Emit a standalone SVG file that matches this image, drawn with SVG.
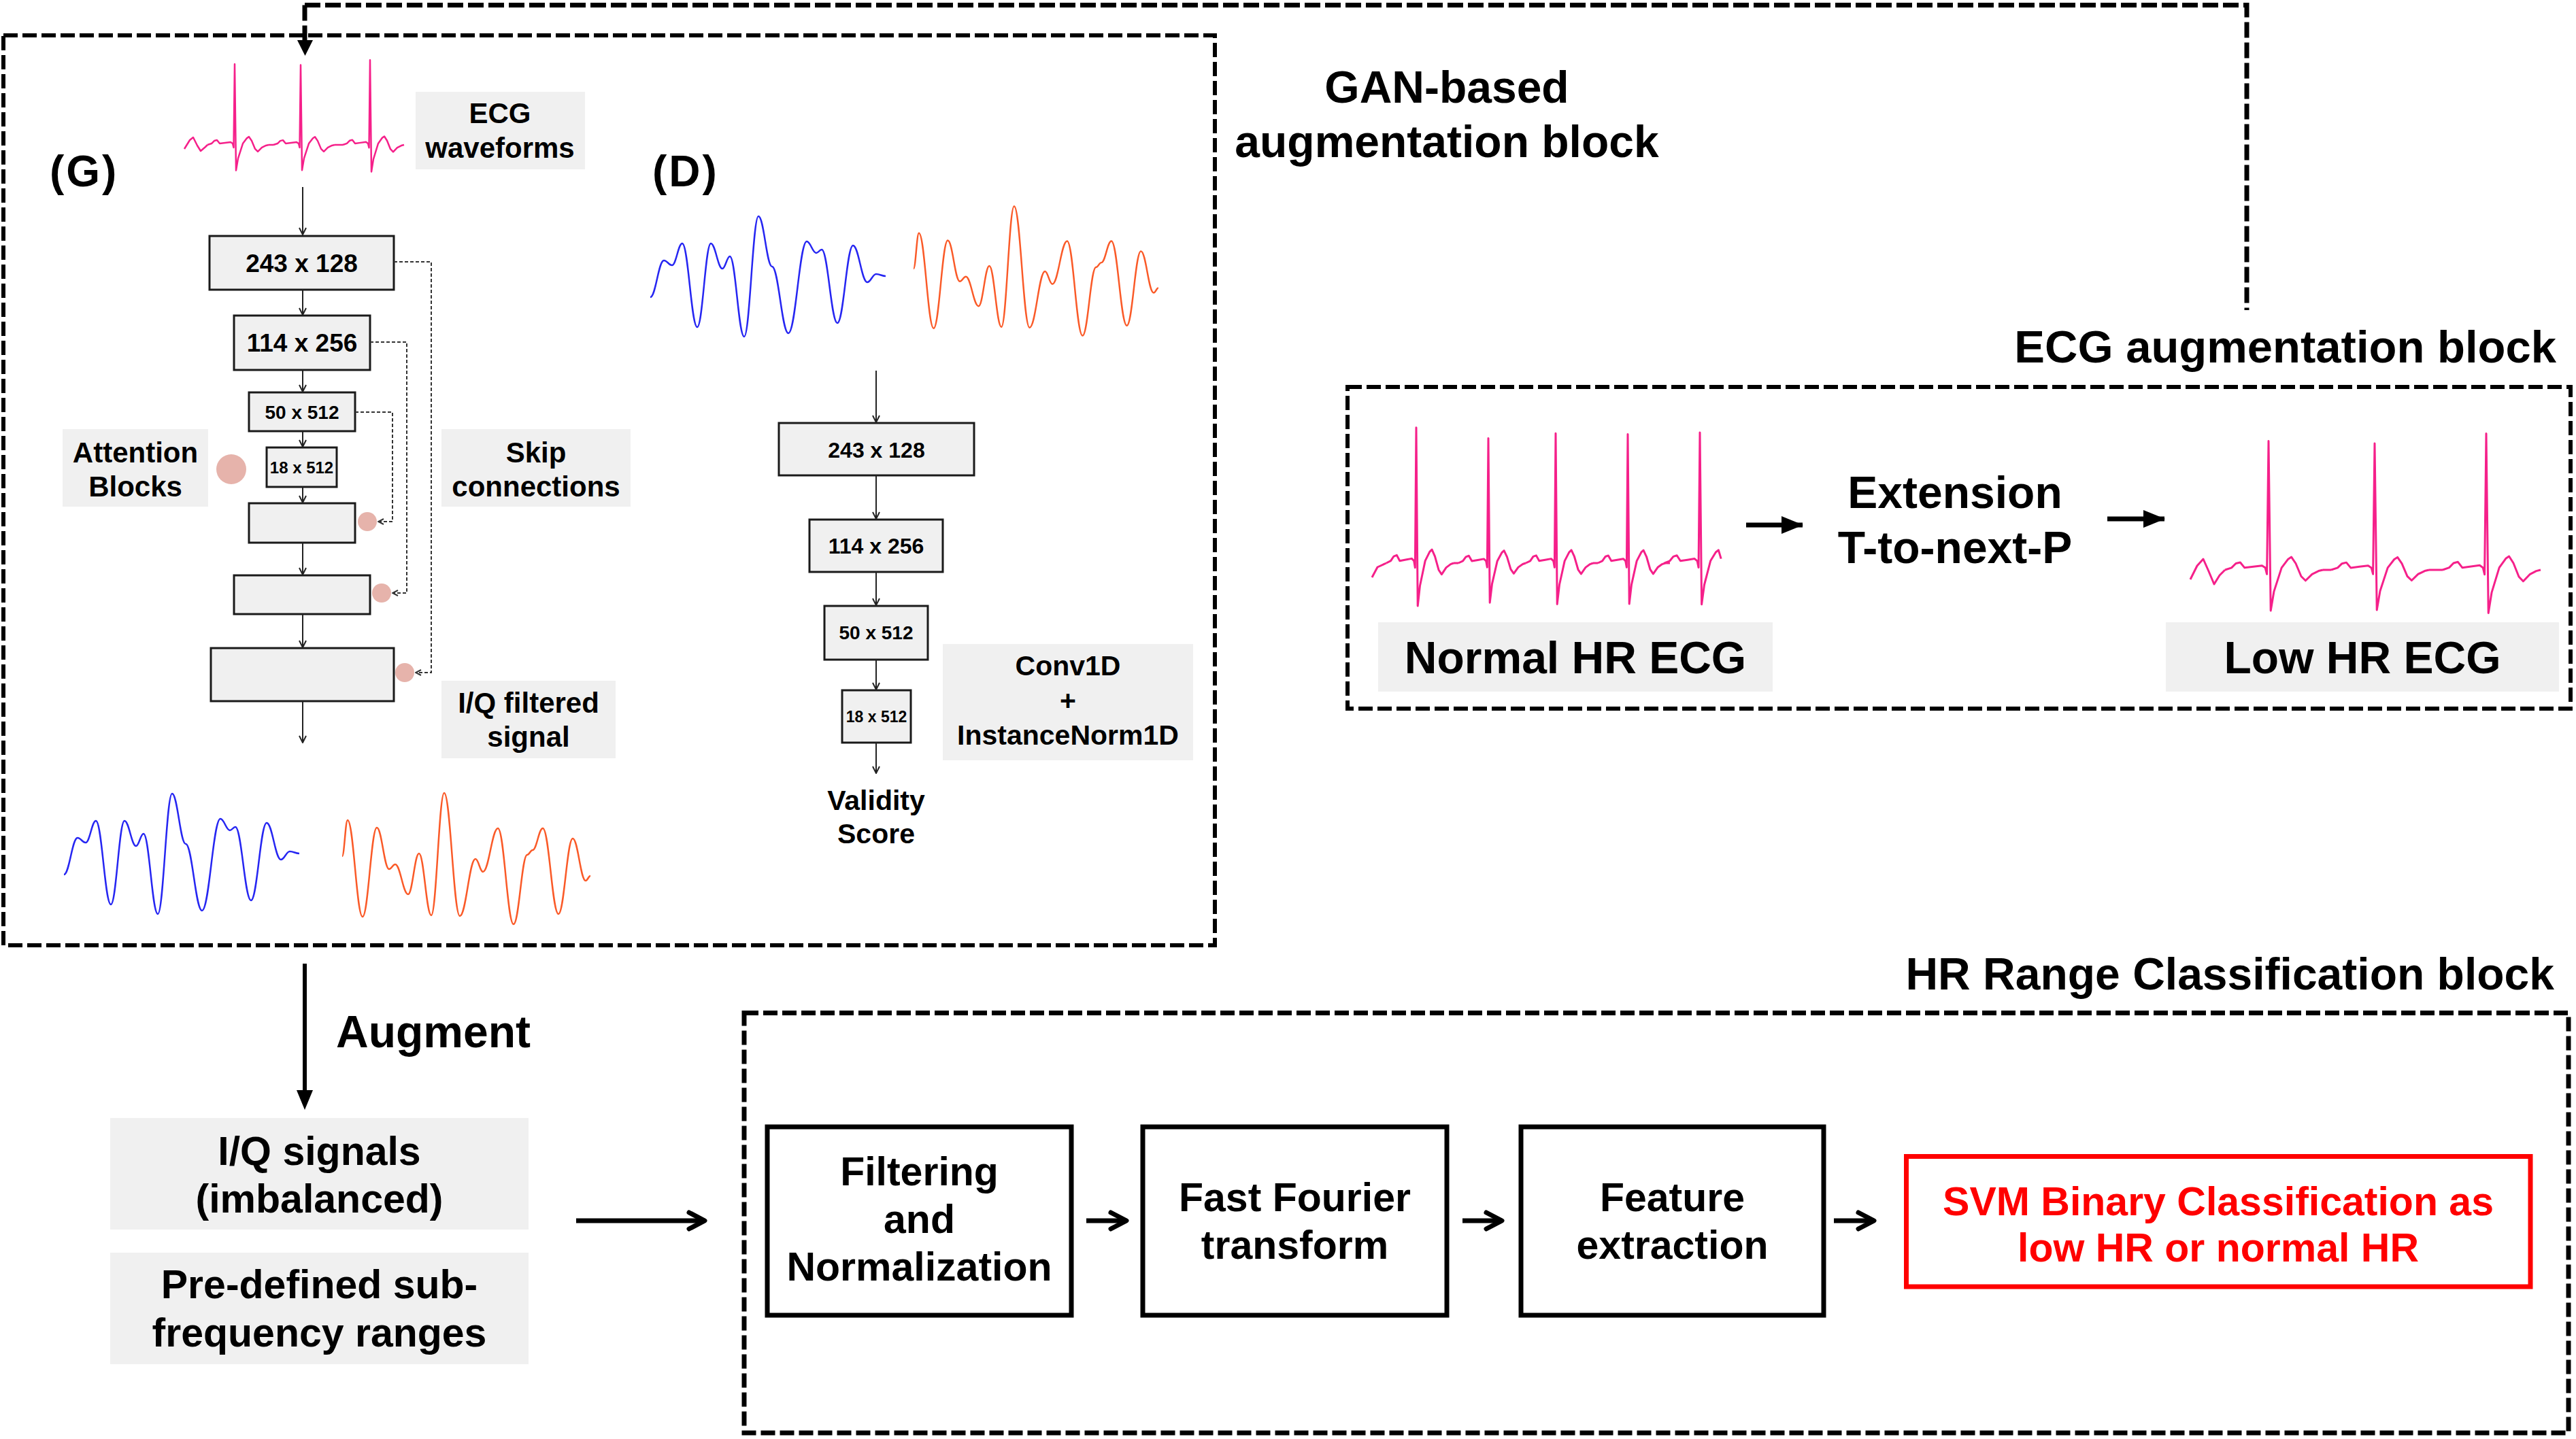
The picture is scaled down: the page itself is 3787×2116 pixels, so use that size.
<svg xmlns="http://www.w3.org/2000/svg" width="3787" height="2116" viewBox="0 0 3787 2116">
<defs>
<style>
text{font-family:"Liberation Sans",Arial,sans-serif;font-weight:bold;fill:#000}
.c{text-anchor:middle}
.blk{fill:none;stroke:#000;stroke-width:6;stroke-dasharray:21 7}
.lbl{fill:#f0f0f0}
.nb{fill:#f0f0f0;stroke:#1a1a1a;stroke-width:3}
.cb{fill:#fff;stroke:#000;stroke-width:7}
.ecg{fill:none;stroke:#f5208a;stroke-width:2.5;stroke-linejoin:round}
.ecg2{fill:none;stroke:#f5208a;stroke-width:3;stroke-linejoin:round}
.att{fill:#e6b3ab}
.thin{fill:none;stroke:#222;stroke-width:2}
.skip{fill:none;stroke:#333;stroke-width:2;stroke-dasharray:5 3}
.thick{fill:none;stroke:#000;stroke-width:7}
.bw{fill:none;stroke:#2626f2;stroke-width:2.5}
.ow{fill:none;stroke:#fa5a28;stroke-width:2.5}
</style>
<path id="beat" vector-effect="non-scaling-stroke" d="M-40,0 L-34,-2 L-30,-6 L-26,-7 L-22,-2 L-14,-3 L-6,-4 L-3,-2 L-1.5,4 L0,-120 L2,38 L5,20 L12,-2 L18,-10 L21,-12 L25,-6 L30,6 L34,10 L40,4 L46,1 L50,0"/>
<path id="beatT" vector-effect="non-scaling-stroke" d="M-40,0 L-34,-2 L-30,-6 L-26,-7 L-22,-2 L-14,-3 L-6,-4 L-3,-2 L-1.5,4 L0,-120 L2,38 L5,20 L12,-2 L18,-10 L21,-12 L24,-4"/>
<path id="bwave" d="M94,1286 C102,1286 106,1232 114,1232 C118.8,1232 121.2,1239 126,1239 C132,1239 135,1207 141,1207 C149.8,1207 154.2,1330 163,1330 C171,1330 175,1207 183,1207 C189.8,1207 193.2,1244 200,1244 C204.4,1244 206.6,1226 211,1226 C219.4,1226 223.6,1344 232,1344 C240.4,1344 244.6,1167 253,1167 C261,1167 265,1241 273,1241 C282.6,1241 287.4,1339 297,1339 C307.8,1339 313.2,1204 324,1204 C329.6,1204 332.4,1221 338,1221 C341.2,1221 342.8,1216 346,1216 C355.2,1216 359.8,1324 369,1324 C378.2,1324 382.8,1210 392,1210 C400.4,1210 404.6,1264 413,1264 C418.2,1264 420.8,1252 426,1252 C431.6,1252 434.4,1255 440,1255"/>
<path id="owave" d="M503,1259 C506.2,1259 507.8,1206 511,1206 C519.8,1206 524.2,1348 533,1348 C541.4,1348 545.6,1217 554,1217 C561.2,1217 564.8,1278 572,1278 C575.6,1278 577.4,1271 581,1271 C588.6,1271 592.4,1315 600,1315 C606.4,1315 609.6,1255 616,1255 C623.2,1255 626.8,1346 634,1346 C641.6,1346 645.4,1166 653,1166 C662.2,1166 666.8,1347 676,1347 C685.2,1347 689.8,1263 699,1263 C703.4,1263 705.6,1282 710,1282 C718.8,1282 723.2,1218 732,1218 C741.2,1218 745.8,1359 755,1359 C763,1359 767,1257 775,1257 C778.2,1257 779.8,1250 783,1250 C789,1250 792,1218 798,1218 C807.2,1218 811.8,1344 821,1344 C829.4,1344 833.6,1233 842,1233 C849.6,1233 853.4,1295 861,1295 C863.8,1295 865.2,1288 868,1288"/>
<marker id="ah" viewBox="0 0 12 12" refX="11" refY="6" markerWidth="12" markerHeight="12" markerUnits="userSpaceOnUse" orient="auto"><path d="M1,1 L11,6 L1,11" fill="none" stroke="#222" stroke-width="2"/></marker>
<marker id="sk" viewBox="0 0 10 10" refX="9" refY="5" markerWidth="10" markerHeight="10" markerUnits="userSpaceOnUse" orient="auto"><path d="M1,1 L9,5 L1,9" fill="none" stroke="#333" stroke-width="2"/></marker>
<marker id="tri" viewBox="0 0 32 26" refX="31" refY="13" markerWidth="32" markerHeight="26" markerUnits="userSpaceOnUse" orient="auto"><path d="M0,0 L32,13 L0,26 Z" fill="#000"/></marker>
<marker id="chev" viewBox="0 0 34 34" refX="29" refY="17" markerWidth="34" markerHeight="34" markerUnits="userSpaceOnUse" orient="auto"><path d="M6,5 L29,17 L6,29" fill="none" stroke="#000" stroke-width="7" stroke-linecap="round" stroke-linejoin="round"/></marker>
</defs>
<rect width="3787" height="2116" fill="#fff"/>

<!-- Block outlines -->
<g id="gan-block">
<rect class="blk" x="5" y="52" width="1781" height="1338"/>
<text class="c" x="2127" y="151" font-size="66">GAN-based</text>
<text class="c" x="2127" y="231" font-size="66">augmentation block</text>
</g>
<g id="ecg-block">
<rect class="blk" x="1981" y="569" width="1798" height="473"/>
<text x="3758" y="533" font-size="67" text-anchor="end">ECG augmentation block</text>
</g>
<g id="hr-block">
<rect class="blk" style="stroke-width:7" x="1094" y="1489.5" width="2682" height="617.5"/>
<text x="3755" y="1455" font-size="66" text-anchor="end">HR Range Classification block</text>
</g>

<!-- Generator -->
<g id="g-title"><text x="73" y="274" font-size="64" letter-spacing="3">(G)</text></g>
<g id="g-ecg-input">
<use href="#beat" class="ecg" transform="translate(345,213) scale(1,0.99)"/>
<use href="#beat" class="ecg" transform="translate(442,213) scale(1,0.98)"/>
<use href="#beat" class="ecg" transform="translate(544,213) scale(1,1.04)"/>
<path class="ecg" d="M271,219 L279,206 L284,202 L290,214 L295,222 L302,216 L305,213 M395,213 L402,213 M492,213 L504,213"/>
</g>
<g id="g-ecg-label">
<rect class="lbl" x="611" y="135" width="249" height="114"/>
<text class="c" x="735" y="181" font-size="42">ECG</text>
<text class="c" x="735" y="232" font-size="42">waveforms</text>
</g>
<g id="g-enc1"><rect class="nb" x="308" y="347" width="271" height="79"/><text class="c" x="443.5" y="400" font-size="37">243 x 128</text></g>
<g id="g-enc2"><rect class="nb" x="344" y="464" width="200" height="80"/><text class="c" x="444" y="517" font-size="37">114 x 256</text></g>
<g id="g-enc3"><rect class="nb" x="366" y="577" width="156" height="57"/><text class="c" x="444" y="616" font-size="28">50 x 512</text></g>
<g id="g-enc4"><rect class="nb" x="392" y="658" width="103" height="58"/><text class="c" x="443.5" y="696" font-size="24">18 x 512</text></g>
<g id="g-dec1"><rect class="nb" x="366" y="740" width="156" height="58"/><circle class="att" cx="540" cy="767" r="14"/></g>
<g id="g-dec2"><rect class="nb" x="344" y="846" width="200" height="57"/><circle class="att" cx="561" cy="872" r="14"/></g>
<g id="g-dec3"><rect class="nb" x="310" y="953" width="269" height="78"/><circle class="att" cx="595" cy="989" r="14"/></g>
<g id="g-attention-label">
<rect class="lbl" x="92" y="631" width="214" height="114"/>
<text class="c" x="199" y="680" font-size="42">Attention</text>
<text class="c" x="199" y="730" font-size="42">Blocks</text>
<circle class="att" cx="340" cy="690" r="22"/>
</g>
<g id="g-skip-label">
<rect class="lbl" x="649" y="631" width="278" height="114"/>
<text class="c" x="788" y="680" font-size="42">Skip</text>
<text class="c" x="788" y="730" font-size="42">connections</text>
</g>
<g id="g-iq-label">
<rect class="lbl" x="649" y="1001" width="256" height="114"/>
<text class="c" x="777" y="1048" font-size="42">I/Q filtered</text>
<text class="c" x="777" y="1098" font-size="42">signal</text>
</g>
<g id="g-output-waves">
<use href="#bwave" class="bw"/>
<use href="#owave" class="ow"/>
</g>

<!-- Discriminator -->
<g id="d-title"><text x="959" y="274" font-size="64" letter-spacing="3">(D)</text></g>
<g id="d-input-waves">
<use href="#bwave" class="bw" transform="translate(862,-849)"/>
<use href="#owave" class="ow" transform="translate(1343,395) scale(0.986) translate(-503,-1259)"/>
</g>
<g id="d-conv1"><rect class="nb" x="1145" y="622" width="287" height="77"/><text class="c" x="1288.5" y="673" font-size="32">243 x 128</text></g>
<g id="d-conv2"><rect class="nb" x="1190" y="764" width="196" height="77"/><text class="c" x="1288" y="814" font-size="32">114 x 256</text></g>
<g id="d-conv3"><rect class="nb" x="1212" y="891" width="152" height="79"/><text class="c" x="1288" y="940" font-size="28">50 x 512</text></g>
<g id="d-conv4"><rect class="nb" x="1238" y="1015" width="101" height="77"/><text class="c" x="1288.5" y="1062" font-size="23">18 x 512</text></g>
<g id="d-validity">
<text class="c" x="1288" y="1191" font-size="41">Validity</text>
<text class="c" x="1288" y="1240" font-size="41">Score</text>
</g>
<g id="d-conv-label">
<rect class="lbl" x="1386" y="947" width="368" height="171"/>
<text class="c" x="1570" y="993" font-size="41">Conv1D</text>
<text class="c" x="1570" y="1044" font-size="41">+</text>
<text class="c" x="1570" y="1095" font-size="41">InstanceNorm1D</text>
</g>

<!-- ECG augmentation -->
<g id="normal-ecg">
<use href="#beat" class="ecg2" transform="translate(2082,828) scale(1.1,1.66)"/>
<use href="#beat" class="ecg2" transform="translate(2188,828) scale(1.1,1.53)"/>
<use href="#beat" class="ecg2" transform="translate(2287,828) scale(1.1,1.59)"/>
<use href="#beat" class="ecg2" transform="translate(2393,828) scale(1.1,1.58)"/>
<use href="#beatT" class="ecg2" transform="translate(2499,828) scale(1.3,1.6)"/>
<path class="ecg2" d="M2017,849 L2025,834 L2038,828 M2137,828 L2144,828 M2342,828 L2349,828 M2448,828 L2455,828"/>
<rect class="lbl" x="2026" y="915" width="580" height="102"/>
<text class="c" x="2316" y="990" font-size="66">Normal HR ECG</text>
</g>
<g id="extension">
<text class="c" x="2874" y="747" font-size="66">Extension</text>
<text class="c" x="2874" y="828" font-size="66">T-to-next-P</text>
</g>
<g id="low-ecg">
<use href="#beat" class="ecg2" transform="translate(3335,838) scale(1.6,1.58)"/>
<use href="#beat" class="ecg2" transform="translate(3491,838) scale(1.6,1.55)"/>
<use href="#beat" class="ecg2" transform="translate(3655,838) scale(1.6,1.67)"/>
<path class="ecg2" d="M3220,852 L3230,832 L3239,822 L3247,840 L3255,859 L3263,846 L3271,838 M3415,838 L3427,838 M3571,838 L3591,838"/>
<rect class="lbl" x="3184" y="915" width="578" height="102"/>
<text class="c" x="3473" y="990" font-size="66">Low HR ECG</text>
</g>

<!-- Bottom -->
<g id="augment-label"><text x="494" y="1540" font-size="66">Augment</text></g>
<g id="iq-signals">
<rect class="lbl" x="162" y="1644" width="615" height="164"/>
<text class="c" x="469.5" y="1713" font-size="59">I/Q signals</text>
<text class="c" x="469.5" y="1783" font-size="59">(imbalanced)</text>
</g>
<g id="subfreq">
<rect class="lbl" x="162" y="1842" width="615" height="164"/>
<text class="c" x="469.5" y="1909" font-size="59">Pre-defined sub-</text>
<text class="c" x="469.5" y="1980" font-size="59">frequency ranges</text>
</g>
<g id="filtering">
<rect class="cb" x="1128" y="1657" width="447" height="277"/>
<text class="c" x="1351.5" y="1743" font-size="59">Filtering</text>
<text class="c" x="1351.5" y="1813" font-size="59">and</text>
<text class="c" x="1351.5" y="1883" font-size="59">Normalization</text>
</g>
<g id="fft">
<rect class="cb" x="1680" y="1657" width="447" height="277"/>
<text class="c" x="1903.5" y="1781" font-size="59">Fast Fourier</text>
<text class="c" x="1903.5" y="1851" font-size="59">transform</text>
</g>
<g id="feature">
<rect class="cb" x="2236" y="1657" width="445" height="277"/>
<text class="c" x="2458.5" y="1781" font-size="59">Feature</text>
<text class="c" x="2458.5" y="1851" font-size="59">extraction</text>
</g>
<g id="svm">
<rect x="2802.5" y="1700.5" width="917.5" height="191.5" fill="#fff" stroke="#ff0000" stroke-width="7"/>
<text class="c" x="3261" y="1787" font-size="59" style="fill:#ff0000">SVM Binary Classification as</text>
<text class="c" x="3261" y="1855" font-size="59" style="fill:#ff0000">low HR or normal HR</text>
</g>

<!-- Connectors -->
<g id="connectors">
<g class="thin" marker-end="url(#ah)">
<path d="M445,275 V345"/>
<path d="M445,426 V463"/>
<path d="M445,544 V576"/>
<path d="M445,634 V657"/>
<path d="M445,716 V739"/>
<path d="M445,798 V845"/>
<path d="M445,903 V952"/>
<path d="M445,1031 V1092"/>
<path d="M1288,545 V621"/>
<path d="M1288,699 V763"/>
<path d="M1288,841 V890"/>
<path d="M1288,970 V1014"/>
<path d="M1288,1092 V1137"/>
</g>
<g class="skip" marker-end="url(#sk)">
<path d="M579,385 H634 V989 H611"/>
<path d="M544,503 H598 V872 H577"/>
<path d="M522,606 H577 V767 H556"/>
</g>
<path style="fill:none;stroke:#000;stroke-width:7;stroke-dasharray:23 7" d="M448,7.5 V60"/>
<path style="fill:none;stroke:#000;stroke-width:7;stroke-dasharray:23 7" d="M448,7.5 H3303 V456"/>
<polygon points="437,59 460,59 448.5,82" fill="#000"/>
<path d="M448,1417 V1608" stroke="#000" stroke-width="6" fill="none"/>
<polygon points="436,1603 460,1603 448,1632" fill="#000"/>
<path class="thick" d="M2567,772 H2650" marker-end="url(#tri)"/>
<path class="thick" d="M3098,763 H3182" marker-end="url(#tri)"/>
<path class="thick" d="M847,1795 H1036" marker-end="url(#chev)"/>
<path class="thick" d="M1597,1795 H1656" marker-end="url(#chev)"/>
<path class="thick" d="M2150,1795 H2208" marker-end="url(#chev)"/>
<path class="thick" d="M2696,1795 H2755" marker-end="url(#chev)"/>
</g>
</svg>
